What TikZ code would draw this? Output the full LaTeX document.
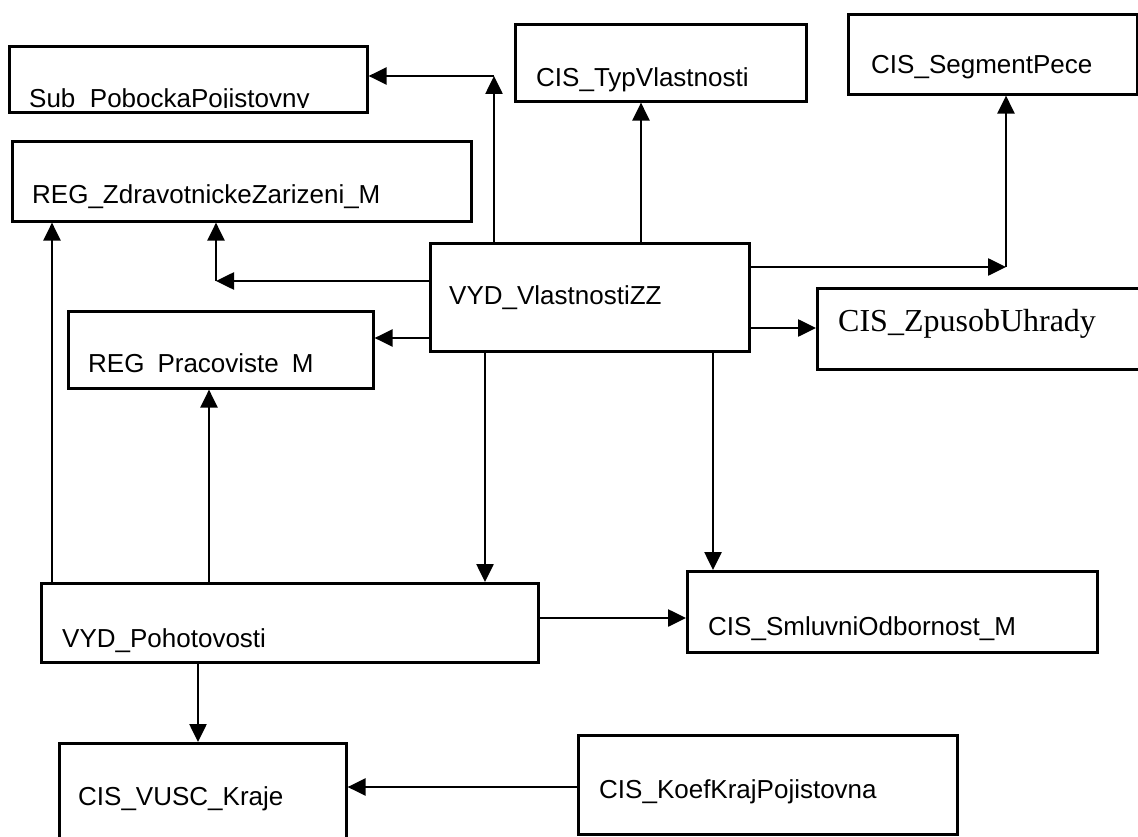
\documentclass[tikz,border=0pt]{standalone}
\usepackage{fontspec}
\setmainfont{Liberation Sans}
\newfontfamily\serifz{Liberation Serif}
\usetikzlibrary{arrows.meta,calc}
\tikzset{
  box/.style={draw, line width=2.6pt, inner sep=0pt, anchor=north west},
  lbl/.style={inner sep=0pt, anchor=base west, font=\fontsize{26}{30}\selectfont},
  lbls/.style={inner sep=0pt, anchor=base west, font=\serifz\fontsize{32}{36}\selectfont},
  arr/.style={line width=2.6pt, -{Triangle[length=18pt,width=17pt]}},
}
\begin{document}
\begin{tikzpicture}[x=1pt,y=-1pt]
\clip (0,0) rectangle (1138,837);
\fill[white] (0,0) rectangle (1138,837);
% boxes
\node[box, minimum width=358pt, minimum height=66pt] (sub) at (8,45) {};
\node[box, minimum width=459pt, minimum height=80pt] (regz) at (11,140) {};
\node[box, minimum width=305pt, minimum height=77pt] (regp) at (67,310) {};
\node[box, minimum width=291pt, minimum height=77pt] (typ) at (514,23) {};
\node[box, minimum width=289pt, minimum height=80pt] (seg) at (847,13) {};
\node[box, minimum width=319pt, minimum height=108pt] (vyd) at (429,242) {};
\node[box, minimum width=330pt, minimum height=81pt] (zpu) at (816,287) {};
\node[box, minimum width=497pt, minimum height=79pt] (poh) at (40,582) {};
\node[box, minimum width=410pt, minimum height=81pt] (sml) at (686,570) {};
\node[box, minimum width=287pt, minimum height=120pt] (vus) at (58,742) {};
\node[box, minimum width=379pt, minimum height=99pt] (koe) at (577,734) {};
% labels
\begin{scope}
  \clip ([shift={(1.3pt,-1.3pt)}]sub.north west) rectangle ([shift={(-1.3pt,6pt)}]sub.south east);
  \node[lbl] (subT) at (29,108) {Sub\_PobockaPojistovny};
\end{scope}
\node[lbl] (regzT) at (32,204) {REG\_ZdravotnickeZarizeni\_M};
\node[lbl] (regpT) at (88,372) {REG\enspace Pracoviste\enspace M};
\node[lbl] (typT) at (536,87) {CIS\_TypVlastnosti};
\node[lbl] (segT) at (871,74) {CIS\_SegmentPece};
\node[lbl] (vydT) at (449,304) {VYD\_VlastnostiZZ};
\node[lbls] (zpuT) at (838,331) {CIS\_ZpusobUhrady};
\node[lbl] (pohT) at (62,647) {VYD\_Pohotovosti};
\node[lbl] (smlT) at (708,635) {CIS\_SmluvniOdbornost\_M};
\node[lbl] (vusT) at (78,805) {CIS\_VUSC\_Kraje};
\node[lbl] (koeT) at (599,798) {CIS\_KoefKrajPojistovna};
% helper coordinates
\coordinate (c1) at (494,76);
\coordinate (c2) at (216,281);
\coordinate (c3) at (1006,267);
\coordinate (kT) at (641,0);
\coordinate (kP) at (485,0);
\coordinate (kS) at (713,0);
\coordinate (kZ) at (52,0);
\coordinate (kR) at (209,0);
\coordinate (kV) at (198,0);
\coordinate (yP) at (0,338);
\coordinate (yU) at (0,328);
\coordinate (yO) at (0,618);
\coordinate (yK) at (0,787);
% connectors
\draw[arr] (vyd.north -| c1) -- (c1);
\draw[arr] (c1) -- (c1 -| sub.east);
\draw[arr] (vyd.north -| kT) -- (typ.south -| kT);
\draw[arr] (vyd.west |- c2) -- (c2);
\draw[arr] (c2) -- (c2 |- regz.south);
\draw[arr] (vyd.west |- yP) -- (regp.east |- yP);
\draw[arr] (vyd.east |- c3) -- (c3);
\draw[arr] (c3) -- (c3 |- seg.south);
\draw[arr] (vyd.east |- yU) -- (zpu.west |- yU);
\draw[arr] (vyd.south -| kP) -- (poh.north -| kP);
\draw[arr] (vyd.south -| kS) -- (sml.north -| kS);
\draw[arr] (poh.north -| kZ) -- (regz.south -| kZ);
\draw[arr] (poh.north -| kR) -- (regp.south -| kR);
\draw[arr] (poh.east |- yO) -- (sml.west |- yO);
\draw[arr] (poh.south -| kV) -- (vus.north -| kV);
\draw[arr] (koe.west |- yK) -- (vus.east |- yK);
\end{tikzpicture}
\end{document}
